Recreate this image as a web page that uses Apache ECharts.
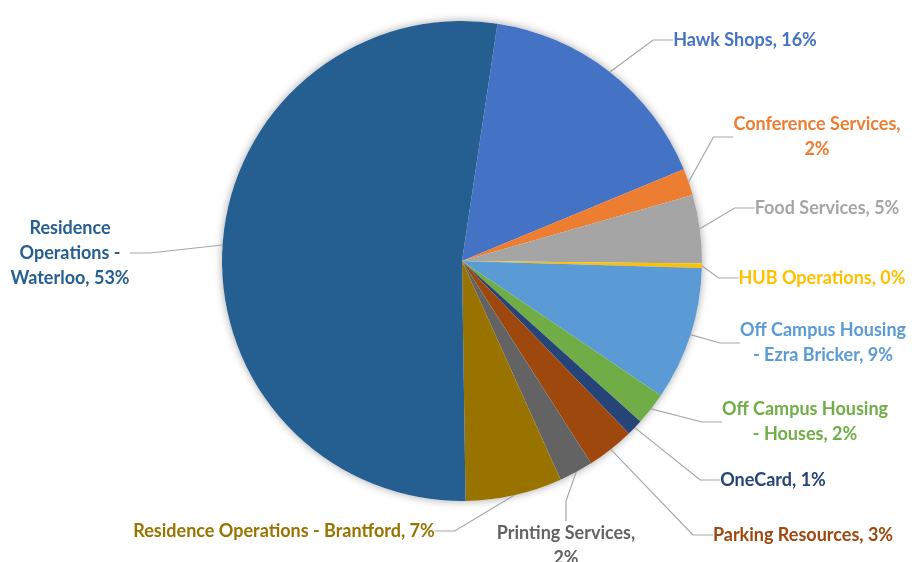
<!DOCTYPE html>
<html>
<head>
<meta charset="utf-8">
<script src="https://cdn.jsdelivr.net/npm/echarts@6/dist/echarts.min.js"></script>
<style>
  html, body { margin: 0; padding: 0; background: #ffffff; }
  #chart { width: 914px; height: 562px; }
</style>
</head>
<body>
<div id="chart"></div>
<script>
// Departments and their share of the total (percent)
const categories = [
  'Hawk Shops',
  'Conference Services',
  'Food Services',
  'HUB Operations',
  'Off Campus Housing - Ezra Bricker',
  'Off Campus Housing - Houses',
  'OneCard',
  'Parking Resources',
  'Printing Services',
  'Residence Operations - Brantford',
  'Residence Operations - Waterloo'
];
const shares = [16.4, 1.8, 4.6, 0.3, 9.0, 2.2, 1.1, 3.2, 2.3, 6.5, 52.6];

// Slice colours (Office palette)
const colors = [
  '#4472C4', '#ED7D31', '#A5A5A5', '#FFC000', '#5B9BD5', '#70AD47',
  '#264478', '#9E480E', '#636363', '#997300', '#255E91'
];

// Label box centres
const labelSpots = [
  [745, 40], [817, 137], [827, 208], [822, 278], [823, 343], [805, 422],
  [773, 480], [803, 535], [566, 546], [284, 531], [70, 253]
];

// How each label text is wrapped onto several lines
function wrapLabel(i, name, pct) {
  const text = name + ', ' + pct + '%';
  switch (i) {
    case 1:
    case 8:
      return name + ',\n' + pct + '%';
    case 4:
    case 5:
      return text.replace(' - ', '\n- ');
    case 10:
      return text.replace('Residence ', 'Residence\n').replace(' - ', ' -\n');
    default:
      return text;
  }
}

const data = categories.map((name, i) => ({
  name,
  value: shares[i],
  itemStyle: { color: colors[i] },
  label: { color: colors[i] }
}));

const chart = echarts.init(document.getElementById('chart'), null, { renderer: 'canvas' });
chart.setOption({
  backgroundColor: '#ffffff',
  animation: false,
  series: [
    {
      // soft shadow under the whole disc
      type: 'pie',
      silent: true,
      center: [462, 261],
      radius: 240,
      z: 1,
      label: { show: false },
      labelLine: { show: false },
      itemStyle: { color: '#ffffff', shadowBlur: 8, shadowColor: 'rgba(0,0,0,0.35)' },
      data: [{ value: 1, name: '' }]
    },
    {
      type: 'pie',
      center: [462, 261],
      radius: 240,
      startAngle: 81.5,
      clockwise: true,
      z: 2,
      avoidLabelOverlap: false,
      itemStyle: { borderWidth: 0 },
      label: {
        show: true,
        position: 'outside',
        fontFamily: 'Lato',
        fontWeight: 'bold',
        fontSize: 18,
        lineHeight: 25,
        align: 'center',
        formatter: p => wrapLabel(p.dataIndex, p.name, Math.round(p.value))
      },
      labelLine: {
        show: true,
        length: 20,
        length2: 20,
        lineStyle: { color: '#A6A6A6', width: 1.2 }
      },
      labelLayout: params => {
        const s = labelSpots[params.dataIndex];
        return { x: s[0], y: s[1], align: 'center', verticalAlign: 'middle' };
      },
      data
    }
  ]
});
</script>
</body>
</html>
